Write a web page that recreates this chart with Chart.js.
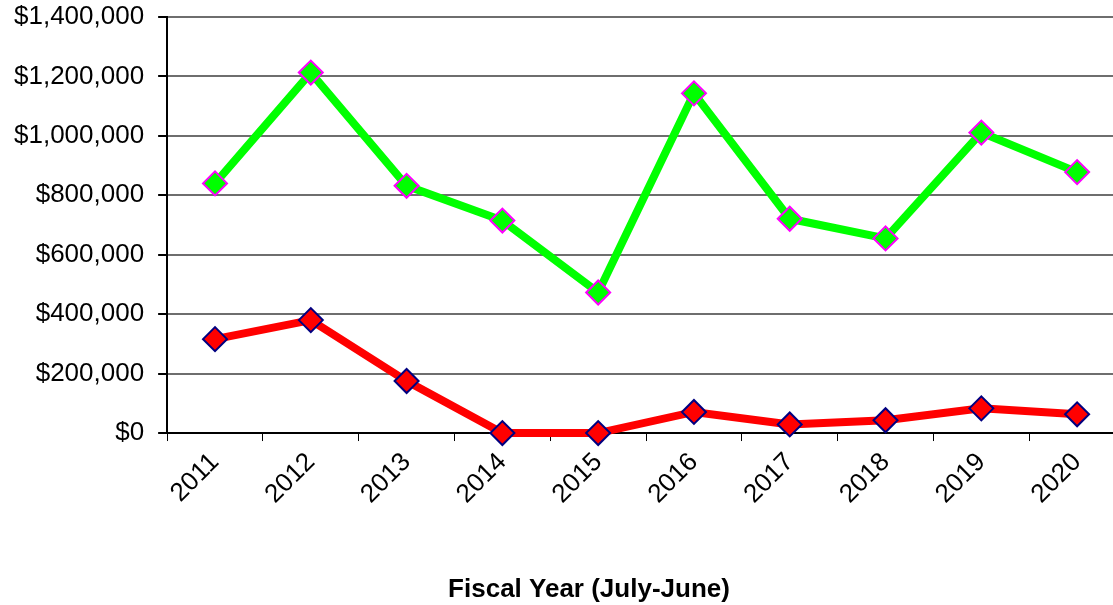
<!DOCTYPE html>
<html>
<head>
<meta charset="utf-8">
<script src="https://cdn.jsdelivr.net/npm/chart.js@4"></script>
<style>
    html, body { margin: 0; padding: 0; overflow: hidden; background: #ffffff; }
    #wrap { width: 1178px; height: 605px; }
</style>
</head>
<body>
<div id="wrap"><canvas id="chart"></canvas></div>
<script>
const years = ['2011', '2012', '2013', '2014', '2015', '2016', '2017', '2018', '2019', '2020']
const greenValues = [840000, 1213000, 832000, 715000, 473000, 1143000, 721000, 655000, 1011000, 878000]
const redValues = [316000, 380000, 175000, 0, 0, 71000, 29000, 43000, 83000, 63000]
const yTicks = [0, 200000, 400000, 600000, 800000, 1000000, 1200000, 1400000]
const xTitle = 'Fiscal Year (July-June)'

const fontFamily = "'Liberation Sans', Arial, sans-serif"

// axis title centred on the canvas, like the original export
const xTitlePlugin = {
    id: 'xTitle',
    afterDraw(chart) {
        const c = chart.ctx
        c.save()
        c.font = 'bold 26px ' + fontFamily
        c.fillStyle = '#000000'
        c.textAlign = 'center'
        c.textBaseline = 'middle'
        c.fillText(xTitle, chart.width / 2, chart.height - 15)
        c.restore()
    }
}

const ctx = document.getElementById('chart').getContext('2d')

new Chart(ctx, {
    type: 'line',
    data: {
        labels: years,
        datasets: [
            {
                data: greenValues,
                borderColor: '#00ff00',
                borderWidth: 8,
                pointStyle: 'rectRot',
                pointRadius: 12,
                pointBackgroundColor: '#00ff00',
                pointBorderColor: '#ff00ff',
                pointBorderWidth: 2,
                tension: 0,
                clip: false
            },
            {
                data: redValues,
                borderColor: '#ff0000',
                borderWidth: 8,
                pointStyle: 'rectRot',
                pointRadius: 12,
                pointBackgroundColor: '#ff0000',
                pointBorderColor: '#000080',
                pointBorderWidth: 2,
                tension: 0,
                clip: false
            }
        ]
    },
    options: {
        responsive: true,
        maintainAspectRatio: false,
        animation: false,
        layout: {
            padding: { left: 0, right: 53, top: 0, bottom: 89 }
        },
        plugins: {
            legend: { display: false },
            tooltip: { enabled: false }
        },
        scales: {
            x: {
                offset: true,
                grid: {
                    display: true,
                    offset: true,
                    drawOnChartArea: false,
                    drawTicks: true,
                    tickLength: 8,
                    color: '#000000',
                    lineWidth: 1
                },
                border: { color: '#000000', width: 2 },
                ticks: {
                    color: '#000000',
                    maxRotation: 45,
                    minRotation: 45,
                    padding: 6,
                    font: { family: fontFamily, size: 26 }
                }
            },
            y: {
                min: 0,
                max: 1400000,
                afterBuildTicks: function(scale) {
                    scale.ticks = yTicks.map(v => ({ value: v }))
                },
                afterFit: function(scale) {
                    scale.paddingTop = 17
                },
                grid: {
                    color: '#6e6e6e',
                    lineWidth: 2,
                    drawTicks: true,
                    tickLength: 9,
                    tickColor: '#000000'
                },
                border: { color: '#000000', width: 2 },
                ticks: {
                    color: '#000000',
                    padding: 14,
                    font: { family: fontFamily, size: 26 },
                    callback: function(value) {
                        return '$' + value.toLocaleString('en-US')
                    }
                }
            }
        }
    },
    plugins: [xTitlePlugin]
})
</script>
</body>
</html>
